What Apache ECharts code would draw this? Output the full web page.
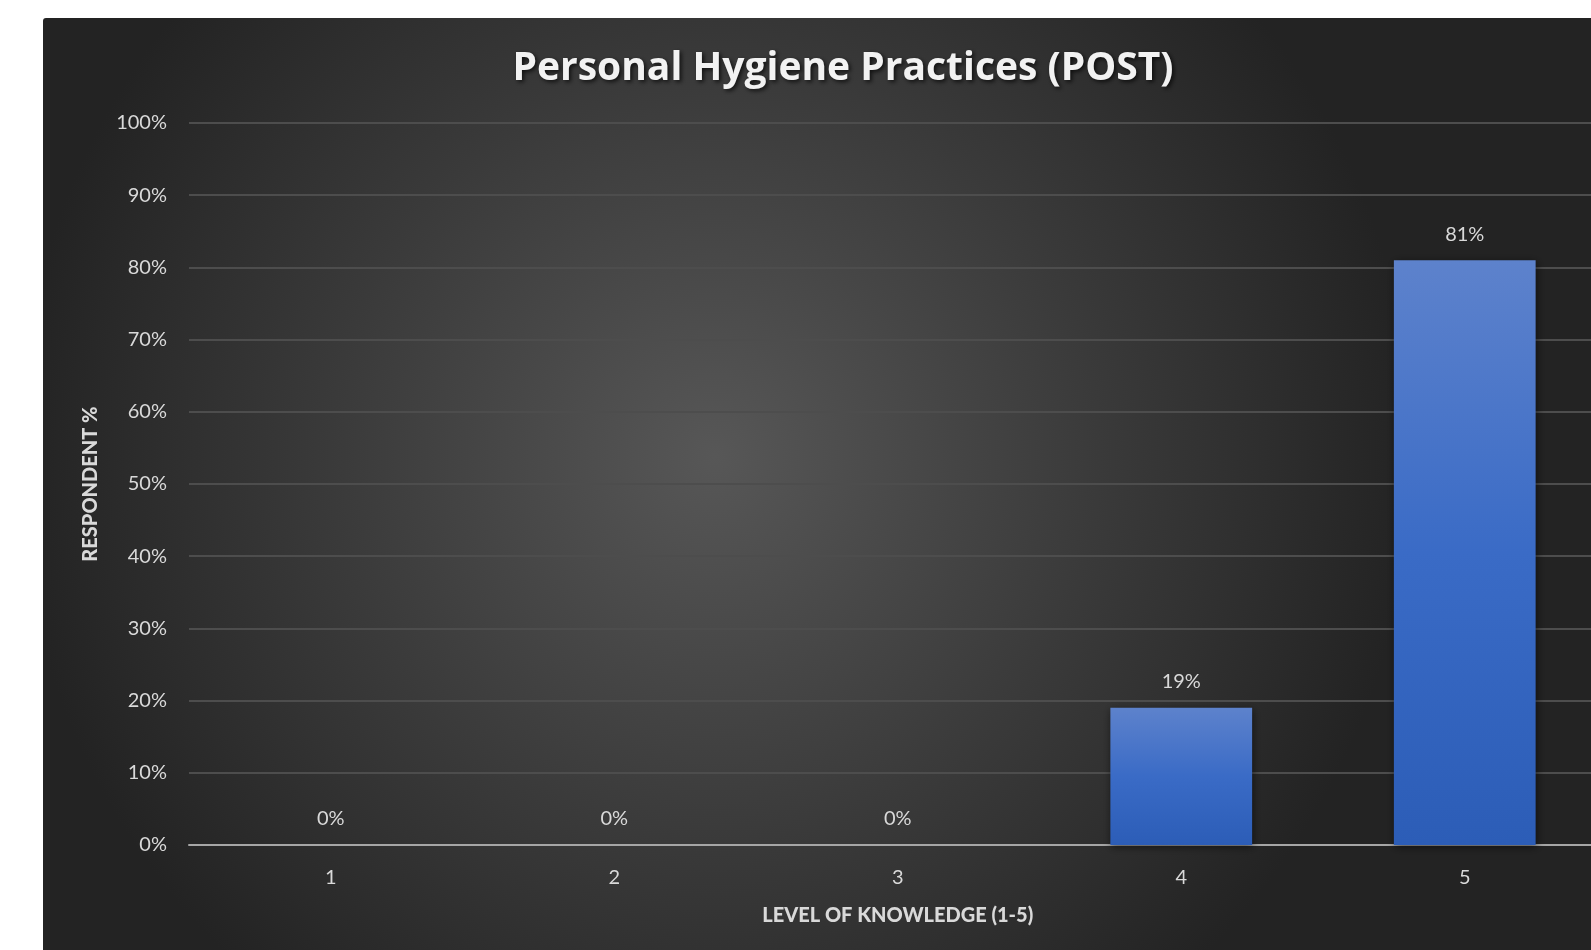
<!DOCTYPE html>
<html>
<head>
<meta charset="utf-8">
<script src="https://cdn.jsdelivr.net/npm/echarts@6/dist/echarts.min.js"></script>
<style>
  html, body { margin: 0; padding: 0; background: #ffffff; overflow: hidden; width: 1591px; height: 950px; }
  #chart { position: absolute; left: 43px; top: 18px; width: 1600px; height: 932px; border-top-left-radius: 3px; overflow: hidden; }
</style>
</head>
<body>
<div id="chart"></div>
<script>
// Knowledge levels on the x axis and share of respondents (%) for each
const levels = ['1', '2', '3', '4', '5'];
const respondentPct = [0, 0, 0, 19, 81];
const yTicks = { min: 0, max: 100, step: 10 };

const chart = echarts.init(document.getElementById('chart'));
const labelColor = '#d9d9d9';
const fontFamily = 'Lato, "Open Sans", sans-serif';

chart.setOption({
  backgroundColor: {
    type: 'radial', x: 0.42, y: 0.47, r: 0.75,
    colorStops: [
      { offset: 0, color: '#575757' },
      { offset: 0.55, color: '#3a3a3a' },
      { offset: 1, color: '#232323' }
    ]
  },
  title: {
    text: 'Personal Hygiene Practices (POST)',
    left: 'center',
    top: 26,
    textStyle: {
      color: '#f2f2f2', fontFamily: '"Open Sans", Lato, sans-serif', fontWeight: 'bold', fontSize: 39,
      textShadowColor: 'rgba(0,0,0,0.7)', textShadowBlur: 4, textShadowOffsetX: 2, textShadowOffsetY: 2
    }
  },
  grid: { left: 146, top: 105, width: 1417.5, height: 722 },
  xAxis: {
    type: 'category',
    data: levels,
    name: 'LEVEL OF KNOWLEDGE (1-5)',
    nameLocation: 'middle',
    nameGap: 61,
    nameTextStyle: { color: labelColor, fontFamily: fontFamily, fontWeight: 900, fontSize: 20 },
    axisLine: { lineStyle: { color: '#a6a6a6', width: 2 } },
    axisTick: { show: false },
    axisLabel: { color: labelColor, fontFamily: fontFamily, fontSize: 20, margin: 23 },
    splitLine: { show: false }
  },
  yAxis: {
    type: 'value',
    min: yTicks.min, max: yTicks.max, interval: yTicks.step,
    name: 'RESPONDENT %',
    nameLocation: 'middle',
    nameGap: 88,
    nameRotate: 90,
    nameTextStyle: { color: labelColor, fontFamily: fontFamily, fontWeight: 900, fontSize: 20 },
    axisLine: { show: false },
    axisTick: { show: false },
    axisLabel: { color: labelColor, fontFamily: fontFamily, fontSize: 20, margin: 22, formatter: '{value}%' },
    splitLine: { lineStyle: { color: '#4d4d4d', width: 2 } }
  },
  series: [{
    type: 'bar',
    data: respondentPct,
    barWidth: '50%',
    itemStyle: {
      color: {
        type: 'linear', x: 0, y: 0, x2: 0, y2: 1,
        colorStops: [
          { offset: 0, color: '#5d82cc' },
          { offset: 0.5, color: '#3a6bc6' },
          { offset: 1, color: '#2c5db7' }
        ]
      },
      shadowColor: 'rgba(0,0,0,0.55)', shadowBlur: 8, shadowOffsetX: 1, shadowOffsetY: 2
    },
    label: {
      show: true, position: 'top', distance: 16,
      color: labelColor, fontFamily: fontFamily, fontSize: 20,
      formatter: p => p.value + '%'
    }
  }]
});
</script>
</body>
</html>
